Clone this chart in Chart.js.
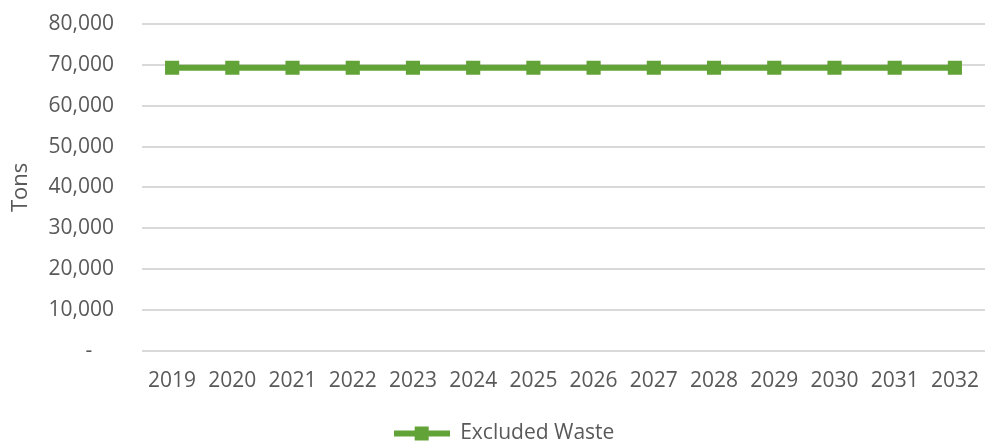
<!DOCTYPE html>
<html>
<head>
<meta charset="utf-8">
<script src="https://cdn.jsdelivr.net/npm/chart.js@4/dist/chart.umd.min.js"></script>
<style>
  html, body { margin: 0; padding: 0; background: #fff; }
  #wrap { width: 995px; height: 444px; }
</style>
</head>
<body>
<div id="wrap"><canvas id="wasteChart" width="995" height="444"></canvas></div>
<script>
// Excluded waste projection, tons per year
const years = ['2019', '2020', '2021', '2022', '2023', '2024', '2025', '2026', '2027', '2028', '2029', '2030', '2031', '2032'];
const excludedWaste = [69300, 69300, 69300, 69300, 69300, 69300, 69300, 69300, 69300, 69300, 69300, 69300, 69300, 69300];
const yTicks = [0, 10000, 20000, 30000, 40000, 50000, 60000, 70000, 80000];

const green = '#62A337';
const textColor = '#595959';
const fontFamily = "'Open Sans', 'Noto Sans', sans-serif";

// legend swatch: a thick line with a square marker in the middle
const swatch = document.createElement('canvas');
swatch.width = 56;
swatch.height = 16;
const sctx = swatch.getContext('2d');
sctx.fillStyle = green;
sctx.fillRect(0, 5, 56, 6);
sctx.fillRect(21, 1, 14, 14);

const ctx = document.getElementById('wasteChart').getContext('2d');

const wasteChart = new Chart(ctx, {
  type: 'line',
  data: {
    labels: years,
    datasets: [
      {
        label: 'Excluded Waste',
        data: excludedWaste,
        borderColor: green,
        backgroundColor: green,
        borderWidth: 6,
        pointStyle: 'rect',
        pointRadius: 10,
        pointHoverRadius: 10,
        pointBorderWidth: 0,
        tension: 0,
      },
    ],
  },
  options: {
    responsive: false,
    animation: false,
    layout: { padding: { top: 24, right: -5, left: 8, bottom: -10 } },
    plugins: {
      tooltip: { enabled: false },
      legend: {
        position: 'bottom',
        labels: {
          color: textColor,
          font: { family: fontFamily, size: 21 },
          usePointStyle: true,
          pointStyleWidth: 56,
          padding: 11,
          generateLabels: () => [{
            text: 'Excluded Waste',
            pointStyle: swatch,
            fontColor: textColor,
            lineWidth: 0,
          }],
        },
      },
    },
    scales: {
      x: {
        offset: true,
        afterFit: (axis) => {
          axis.paddingLeft = 0;
          axis.paddingRight = 0;
        },
        grid: { display: false, drawTicks: false },
        border: { display: false },
        ticks: {
          color: textColor,
          font: { family: fontFamily, size: 21 },
          maxRotation: 0,
          padding: 18,
        },
      },
      y: {
        min: 0,
        max: 80000,
        afterBuildTicks: (axis) => {
          axis.ticks = yTicks.map((v) => ({ value: v }));
        },
        afterFit: (axis) => {
          axis.width = 134;
          axis.paddingTop = 0;
          axis.paddingBottom = 0;
        },
        grid: { color: '#D9D9D9', lineWidth: 2, drawTicks: false },
        border: { display: false },
        title: {
          display: true,
          text: 'Tons',
          color: textColor,
          font: { family: fontFamily, size: 22 },
          padding: 0,
        },
        ticks: {
          color: textColor,
          font: { family: fontFamily, size: 21 },
          padding: 28,
          callback: (v) => (v === 0 ? '-    ' : v.toLocaleString('en-US')),
        },
      },
    },
  },
});
</script>
</body>
</html>
